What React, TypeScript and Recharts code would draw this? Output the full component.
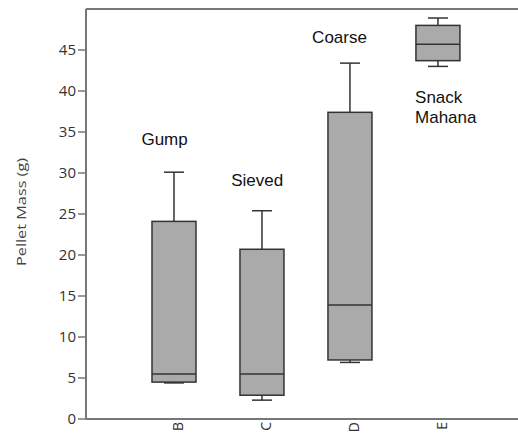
import { ComposedChart, Bar, XAxis, YAxis, ReferenceDot, ReferenceLine } from 'recharts';

const categories = ['B', 'C', 'D', 'E'];
const positions = [1, 2, 3, 4];
const whiskerLow = [4.4, 2.3, 6.9, 43.0];
const quartileLow = [4.5, 2.9, 7.2, 43.7];
const medians = [5.5, 5.5, 13.9, 45.7];
const quartileHigh = [24.1, 20.7, 37.4, 48.0];
const whiskerHigh = [30.1, 25.4, 43.4, 48.9];
const yTicks = [0, 5, 10, 15, 20, 25, 30, 35, 40, 45];

const noteText = ['Gump', 'Sieved', 'Coarse', 'Snack\nMahana'];
const noteX = [0.63, 1.65, 2.57, 3.74];
const noteY = [34.2, 29.1, 46.6, 39.3];

const data = positions.map((pos, i) => ({
  pos,
  name: categories[i],
  range: [whiskerLow[i], whiskerHigh[i]],
  q1: quartileLow[i],
  median: medians[i],
  q3: quartileHigh[i],
}));

const AXIS = '#777777';
const INK = '#333333';

function BoxShape(props: any) {
  const { x, y, width, height, payload } = props;
  const [lo, hi] = payload.range;
  const top = Math.min(y, y + height);
  const bottom = Math.max(y, y + height);
  const ppu = (bottom - top) / (hi - lo);
  const yOf = (v: number) => bottom - (v - lo) * ppu;
  const cx = x + width / 2;
  const cap = 10;
  return (
    <g>
      <line x1={cx} x2={cx} y1={yOf(hi)} y2={yOf(payload.q3)} stroke={INK} strokeWidth={1.5} />
      <line x1={cx} x2={cx} y1={yOf(lo)} y2={yOf(payload.q1)} stroke={INK} strokeWidth={1.5} />
      <line x1={cx - cap} x2={cx + cap} y1={yOf(hi)} y2={yOf(hi)} stroke={INK} strokeWidth={1.5} />
      <line x1={cx - cap} x2={cx + cap} y1={yOf(lo)} y2={yOf(lo)} stroke={INK} strokeWidth={1.5} />
      <rect
        x={x}
        y={yOf(payload.q3)}
        width={width}
        height={yOf(payload.q1) - yOf(payload.q3)}
        fill="#aaaaaa"
        stroke={INK}
        strokeWidth={1.5}
      />
      <line x1={x} x2={x + width} y1={yOf(payload.median)} y2={yOf(payload.median)} stroke={INK} strokeWidth={1.5} />
    </g>
  );
}

function CategoryTick(props: any) {
  const { x, y, payload } = props;
  const label = categories[positions.indexOf(payload.value)];
  return (
    <g transform={`translate(${x + 4},${y})`}>
      <text transform="rotate(-90)" x={-3} dy="0.35em" textAnchor="end" fontSize={14} fill={INK} fontFamily="'Open Sans', sans-serif">
        {label}
      </text>
    </g>
  );
}

function NoteLabel(props: any) {
  const { viewBox, value } = props;
  const lines = String(value).split('\n');
  const cx = viewBox.x + (viewBox.width || 0) / 2;
  const cy = viewBox.y + (viewBox.height || 0) / 2;
  return (
    <text x={cx} y={cy} fontSize={17} fill="#111111" fontFamily="'Liberation Sans', Arial, sans-serif" textAnchor="start">
      {lines.map((ln, i) => (
        <tspan key={i} x={cx} dy={i === 0 ? '0.35em' : '1.2em'}>
          {ln}
        </tspan>
      ))}
    </text>
  );
}

function YLabel(props: any) {
  const { viewBox } = props;
  const x = viewBox.x + 21;
  const y = viewBox.y + viewBox.height / 2 - 2;
  return (
    <text
      x={x}
      y={y}
      transform={`rotate(-90, ${x}, ${y})`}
      textAnchor="middle"
      dy="0.35em"
      fontSize={13}
      textLength={108}
      lengthAdjust="spacingAndGlyphs"
      fill="#444444"
      fontFamily="'Open Sans', sans-serif"
    >
      Pellet Mass (g)
    </text>
  );
}

export default function App() {
  return (
    <div style={{ position: 'absolute', left: 0, top: 0, background: '#ffffff' }}>
      <ComposedChart width={518} height={434} data={data} margin={{ top: 9, right: 0, left: 0, bottom: 0 }}>
        <XAxis
          dataKey="pos"
          type="number"
          domain={[0, 4.91]}
          ticks={positions}
          height={15}
          tickSize={0}
          tickMargin={0}
          tickLine={false}
          axisLine={{ stroke: AXIS, strokeWidth: 2 }}
          tick={<CategoryTick />}
          interval={0}
        />
        <YAxis
          type="number"
          domain={[0, 50]}
          ticks={yTicks}
          width={86}
          tickSize={8}
          tickMargin={2}
          axisLine={{ stroke: AXIS, strokeWidth: 2 }}
          tickLine={{ stroke: AXIS, strokeWidth: 1.5 }}
          tick={{ fill: INK, fontSize: 15, fontFamily: "'Open Sans', sans-serif" }}
          label={<YLabel />}
        />
        <ReferenceLine y={50} stroke={AXIS} strokeWidth={2} />
        <Bar dataKey="range" barSize={44} shape={<BoxShape />} isAnimationActive={false} />
        {noteText.map((t, i) => (
          <ReferenceDot key={t} x={noteX[i]} y={noteY[i]} r={0} fill="none" stroke="none" label={<NoteLabel value={t} />} />
        ))}
      </ComposedChart>
    </div>
  );
}
